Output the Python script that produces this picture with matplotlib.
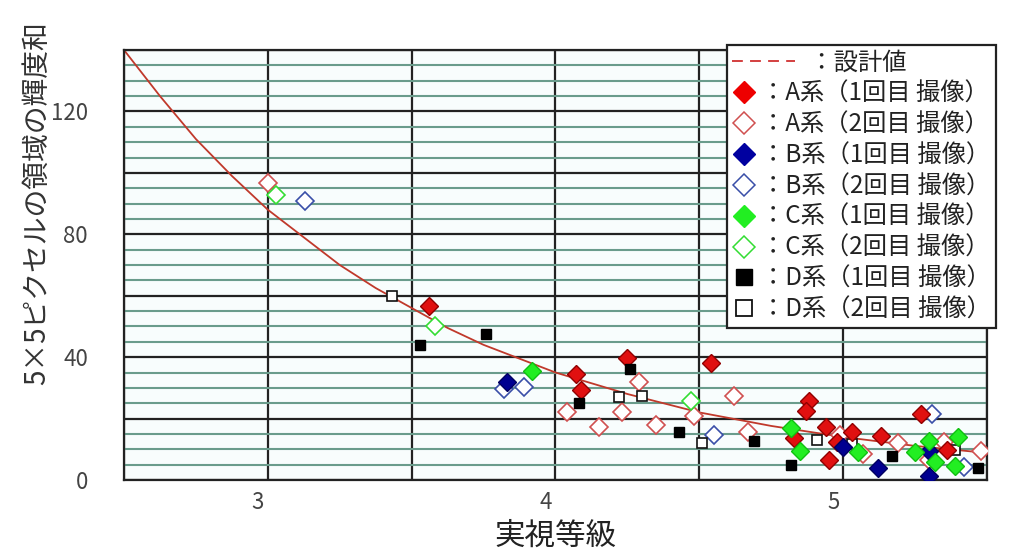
import matplotlib
matplotlib.use("Agg")
import matplotlib.pyplot as plt
import matplotlib.transforms as mtransforms
from matplotlib.ticker import MultipleLocator, FuncFormatter

plt.rcParams['font.family'] = ['Noto Sans CJK JP', 'DejaVu Sans']

# ---------------- data ---------------- #

# design curve samples (実視等級, 輝度和)
design_mag = [2.5, 2.625, 2.75, 2.875, 3.0, 3.125, 3.25, 3.375, 3.5, 3.625, 3.75, 3.875,
              4.0, 4.25, 4.5, 4.75, 5.0, 5.25, 5.5]
design_val = [140, 125, 111, 99, 88, 79, 70, 62.5, 56, 49.5, 44, 39.5,
              35, 28, 22, 17.6, 14, 11.1, 8.8]

a1_mag = [3.56, 4.07, 4.09, 4.25, 4.54, 4.88, 4.87, 4.83, 4.94, 4.95, 4.98, 5.03, 5.13, 5.27, 5.36]
a1_val = [56.5, 34.4, 29.2, 39.7, 38.0, 25.6, 22.6, 13.8, 17.4, 6.6, 12.5, 15.7, 14.4, 21.6, 9.8]

a2_mag = [3.00, 4.04, 4.15, 4.29, 4.23, 4.35, 4.48, 4.62, 4.67, 4.99, 5.07, 5.19, 5.30, 5.35, 5.48]
a2_val = [96.7, 22.0, 17.4, 32.0, 22.0, 18.0, 20.7, 27.5, 15.7, 14.5, 8.5, 12.0, 6.6, 12.5, 9.5]

b1_mag = [3.83, 5.00, 5.12, 5.30, 5.30]
b1_val = [31.8, 10.8, 3.9, 1.3, 9.5]

b2_mag = [3.13, 3.82, 3.89, 4.55, 5.31, 5.42]
b2_val = [90.8, 29.5, 30.2, 14.8, 21.6, 4.3]

c1_mag = [3.92, 4.82, 4.85, 5.05, 5.25, 5.30, 5.32, 5.40, 5.39]
c1_val = [35.4, 17.0, 9.5, 9.2, 9.2, 12.8, 6.0, 14.0, 4.6]

c2_mag = [3.03, 3.58, 4.47]
c2_val = [92.8, 50.0, 25.6]

d1_mag = [3.53, 3.76, 4.08, 4.26, 4.43, 4.69, 4.82, 5.17, 5.47]
d1_val = [44.0, 47.5, 25.0, 36.0, 15.7, 12.8, 4.9, 7.9, 3.9]

d2_mag = [3.43, 4.22, 4.30, 4.51, 4.91, 5.03, 5.39]
d2_val = [60.0, 26.9, 27.2, 12.1, 13.0, 11.8, 9.8]

# ---------------- figure ---------------- #

fig = plt.figure(figsize=(10.19, 5.52), dpi=100)
ax = fig.add_axes([124 / 1019, 1 - 480 / 552, (987 - 124) / 1019, (480 - 50) / 552])
ax.set_facecolor('#f8fdfd')

ax.set_xlim(2.5, 5.5)
ax.set_ylim(0, 140)

# grid: black every 20 / 0.5, green every 5
ax.xaxis.set_major_locator(MultipleLocator(0.5))
ax.yaxis.set_major_locator(MultipleLocator(20))
ax.yaxis.set_minor_locator(MultipleLocator(5))
ax.grid(which='minor', axis='y', color='#6a9c8c', lw=1.5, zorder=0)
ax.grid(which='major', axis='both', color='#222222', lw=1.6, zorder=0)
ax.set_axisbelow(True)

ax.xaxis.set_major_formatter(FuncFormatter(lambda v, p: f'{v:.0f}' if abs(v - round(v)) < 1e-6 else ''))
ax.yaxis.set_major_formatter(FuncFormatter(lambda v, p: f'{v:.0f}' if round(v) % 40 == 0 else ''))
ax.tick_params(which='both', length=0, labelsize=16, colors='#444444')
ax.tick_params(axis='y', pad=26)
ax.tick_params(axis='x', pad=8)

for s in ax.spines.values():
    s.set_color('#222222')
    s.set_linewidth(1.6)

# curve
ax.plot(design_mag, design_val, color='#c0392b', lw=1.3, zorder=2)

open_kw = dict(linestyle='none', markerfacecolor='white', markeredgewidth=1.2, zorder=3)
ax.plot(a2_mag, a2_val, marker='D', ms=9, markeredgecolor='#d05050', **open_kw)
ax.plot(b2_mag, b2_val, marker='D', ms=9, markeredgecolor='#3a4fa8', **open_kw)
ax.plot(c2_mag, c2_val, marker='D', ms=9, markeredgecolor='#33dd33', **open_kw)
ax.plot(d2_mag, d2_val, marker='s', ms=7.5, markeredgecolor='#111111', **open_kw)
ax.plot(a1_mag, a1_val, 'D', ms=9, color='#e01010', markeredgecolor='#900000', zorder=4)
ax.plot(b1_mag, b1_val, 'D', ms=9, color='#000090', markeredgecolor='#000060', zorder=4)
ax.plot(c1_mag, c1_val, 'D', ms=9, color='#22ee22', markeredgecolor='#10c010', zorder=4)
ax.plot(d1_mag, d1_val, 's', ms=7.5, color='#000000', zorder=4)

# legend (handles only)
h_line, = ax.plot([], [], color='#d03030', lw=1.3, dashes=(6, 4))
h_a1, = ax.plot([], [], 'D', ms=11, color='#ee0000')
h_a2, = ax.plot([], [], 'D', ms=11, markerfacecolor='white', markeredgecolor='#d05050', markeredgewidth=1.1)
h_b1, = ax.plot([], [], 'D', ms=11, color='#0000a0')
h_b2, = ax.plot([], [], 'D', ms=11, markerfacecolor='white', markeredgecolor='#3a4fa8', markeredgewidth=1.1)
h_c1, = ax.plot([], [], 'D', ms=11, color='#22ee22')
h_c2, = ax.plot([], [], 'D', ms=11, markerfacecolor='white', markeredgecolor='#33dd33', markeredgewidth=1.1)
h_d1, = ax.plot([], [], 's', ms=12, color='#000000')
h_d2, = ax.plot([], [], 's', ms=12, markerfacecolor='white', markeredgecolor='#111111', markeredgewidth=1.3)

labels = ['\u3000\u3000：設計値',
          '：A系（1回目 撮像）', '：A系（2回目 撮像）',
          '：B系（1回目 撮像）', '：B系（2回目 撮像）',
          '：C系（1回目 撮像）', '：C系（2回目 撮像）',
          '：D系（1回目 撮像）', '：D系（2回目 撮像）']
leg = fig.legend([h_line, h_a1, h_a2, h_b1, h_b2, h_c1, h_c2, h_d1, h_d2], labels,
                 loc='upper left', bbox_to_anchor=(727 / 1019, 1 - 45 / 552),
                 fontsize=17.5, handlelength=1.0, handletextpad=0.2, labelspacing=0.2,
                 borderpad=0.2, borderaxespad=0, frameon=True, fancybox=False,
                 edgecolor='#222222', framealpha=1)
leg.get_frame().set_linewidth(1.6)
for t in leg.get_texts():
    t.set_color('#222222')
ln = leg.get_lines()[0]
xd = ln.get_xdata()
ln.set_xdata([xd[0], xd[0] + 2.6 * (xd[-1] - xd[0])])
ln.set_ydata([ln.get_ydata()[0]] * 2)

# shift x tick labels slightly left like the original
offset = mtransforms.ScaledTranslation(-10 / 100, 0, fig.dpi_scale_trans)
for tick in ax.xaxis.get_major_ticks():
    tick.label1.set_transform(tick.label1.get_transform() + offset)

ax.set_xlabel('実視等級', fontsize=22, color='#222222', labelpad=5)
fig.text(37 / 1019, 1 - 203 / 552, '5×5ピクセルの領域の輝度和', rotation=90,
         fontsize=20, color='#333333', ha='center', va='center')

fig.savefig('out.png', dpi=100)
